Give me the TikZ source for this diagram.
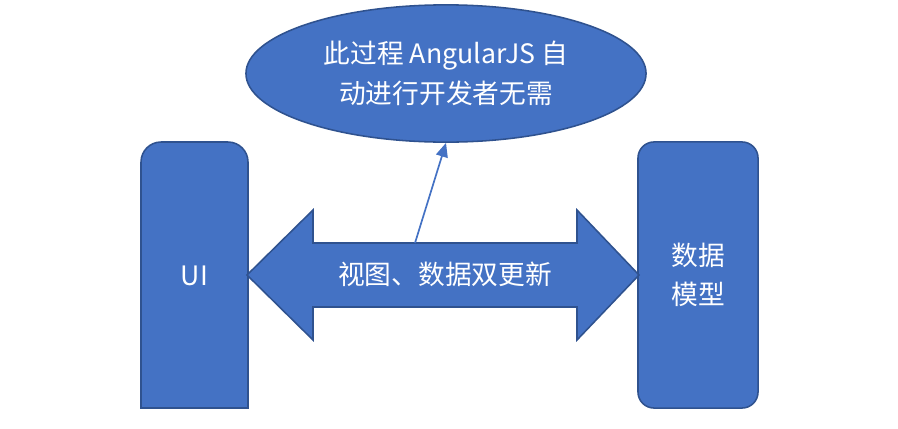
\documentclass[tikz,border=0pt]{standalone}
\usepackage{fontspec}
\setmainfont{Noto Sans CJK SC}
\usetikzlibrary{arrows.meta,shapes.geometric}
\definecolor{boxfill}{HTML}{4472C4}
\definecolor{boxline}{HTML}{2F528F}
\tikzset{
  shape fill/.style={fill=boxfill,draw=boxline,line width=1.1pt},
  white text/.style={text=white,font=\fontsize{19}{28}\selectfont,align=center}
}
\begin{document}
\begin{tikzpicture}[x=0.025cm,y=-0.025cm]
        \useasboundingbox (0,0) rectangle (898,428);
        %% UI box, only the top corners rounded
        \draw[shape fill] (141,408) -- (141,275) [rounded corners=0.5cm] -- (141,142) -- (248,142) -- (248,275) [sharp corners] -- (248,408) -- cycle;
        \node[white text] (ui) at (194.5,276) {UI};
        %% data model box
        \node[shape fill,white text,rounded corners=0.4cm,minimum width=3cm,minimum height=6.65cm,inner sep=0pt] (model) at (698,275) {数据\\模型};
        %% double arrow
        \draw[shape fill] (247,275) -- (313,210) -- (313,243) -- (577,243) -- (577,210) -- (639,275)
            -- (577,340) -- (577,307) -- (313,307) -- (313,340) -- cycle;
        \node[white text] (sync) at (445,274) {视图、数据双更新};
        \coordinate (shaft) at (415,243);
        %% ellipse
        \node[shape fill,white text,ellipse,minimum width=10cm,minimum height=3.43cm,inner sep=0pt] (auto) at (446,73.5) {此过程 AngularJS 自\\动进行开发者无需};
        %% arrow to ellipse
        \draw[boxfill,line width=1.2pt,-{Triangle[length=0.35cm,width=0.3cm]}] (shaft) -- (auto.south);
    \end{tikzpicture}
\end{document}
